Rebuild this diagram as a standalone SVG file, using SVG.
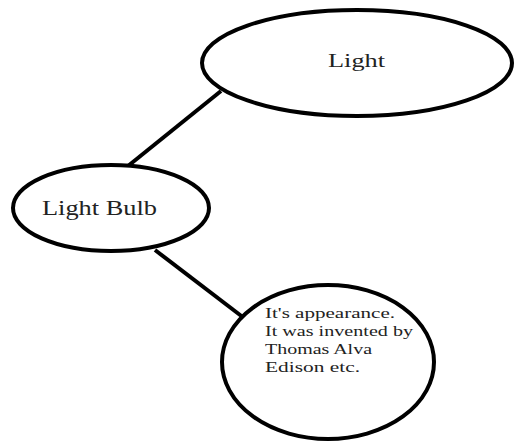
<svg xmlns="http://www.w3.org/2000/svg" width="514" height="441" viewBox="0 0 514 441">
<style>
.node{fill:#fff;stroke:#000;stroke-width:4}
.edge{stroke:#000;stroke-width:4;fill:none}
.t{font-family:"Liberation Serif","Times New Roman",serif;fill:#222}
</style>
<rect width="514" height="441" fill="#fff"/>
<g id="connectors">
<line class="edge" x1="221" y1="91" x2="128" y2="166"/>
<line class="edge" x1="155" y1="250" x2="244" y2="318"/>
</g>
<g id="light">
<ellipse class="node" cx="357" cy="63" rx="155" ry="53"/>
<text class="t" x="328" y="67" font-size="19" textLength="57" lengthAdjust="spacingAndGlyphs">Light</text>
</g>
<g id="light-bulb">
<ellipse class="node" cx="111" cy="208" rx="98" ry="43"/>
<text class="t" x="42" y="215" font-size="21" textLength="115" lengthAdjust="spacingAndGlyphs">Light Bulb</text>
</g>
<g id="appearance">
<ellipse class="node" cx="328" cy="362" rx="106" ry="77"/>
<text class="t" font-size="15">
<tspan x="265" y="318" textLength="130" lengthAdjust="spacingAndGlyphs">It's appearance.</tspan>
<tspan x="265" y="336" textLength="148" lengthAdjust="spacingAndGlyphs">It was invented by</tspan>
<tspan x="265" y="354" textLength="107" lengthAdjust="spacingAndGlyphs">Thomas Alva</tspan>
<tspan x="265" y="372" textLength="95" lengthAdjust="spacingAndGlyphs">Edison etc.</tspan>
</text>
</g>
</svg>
